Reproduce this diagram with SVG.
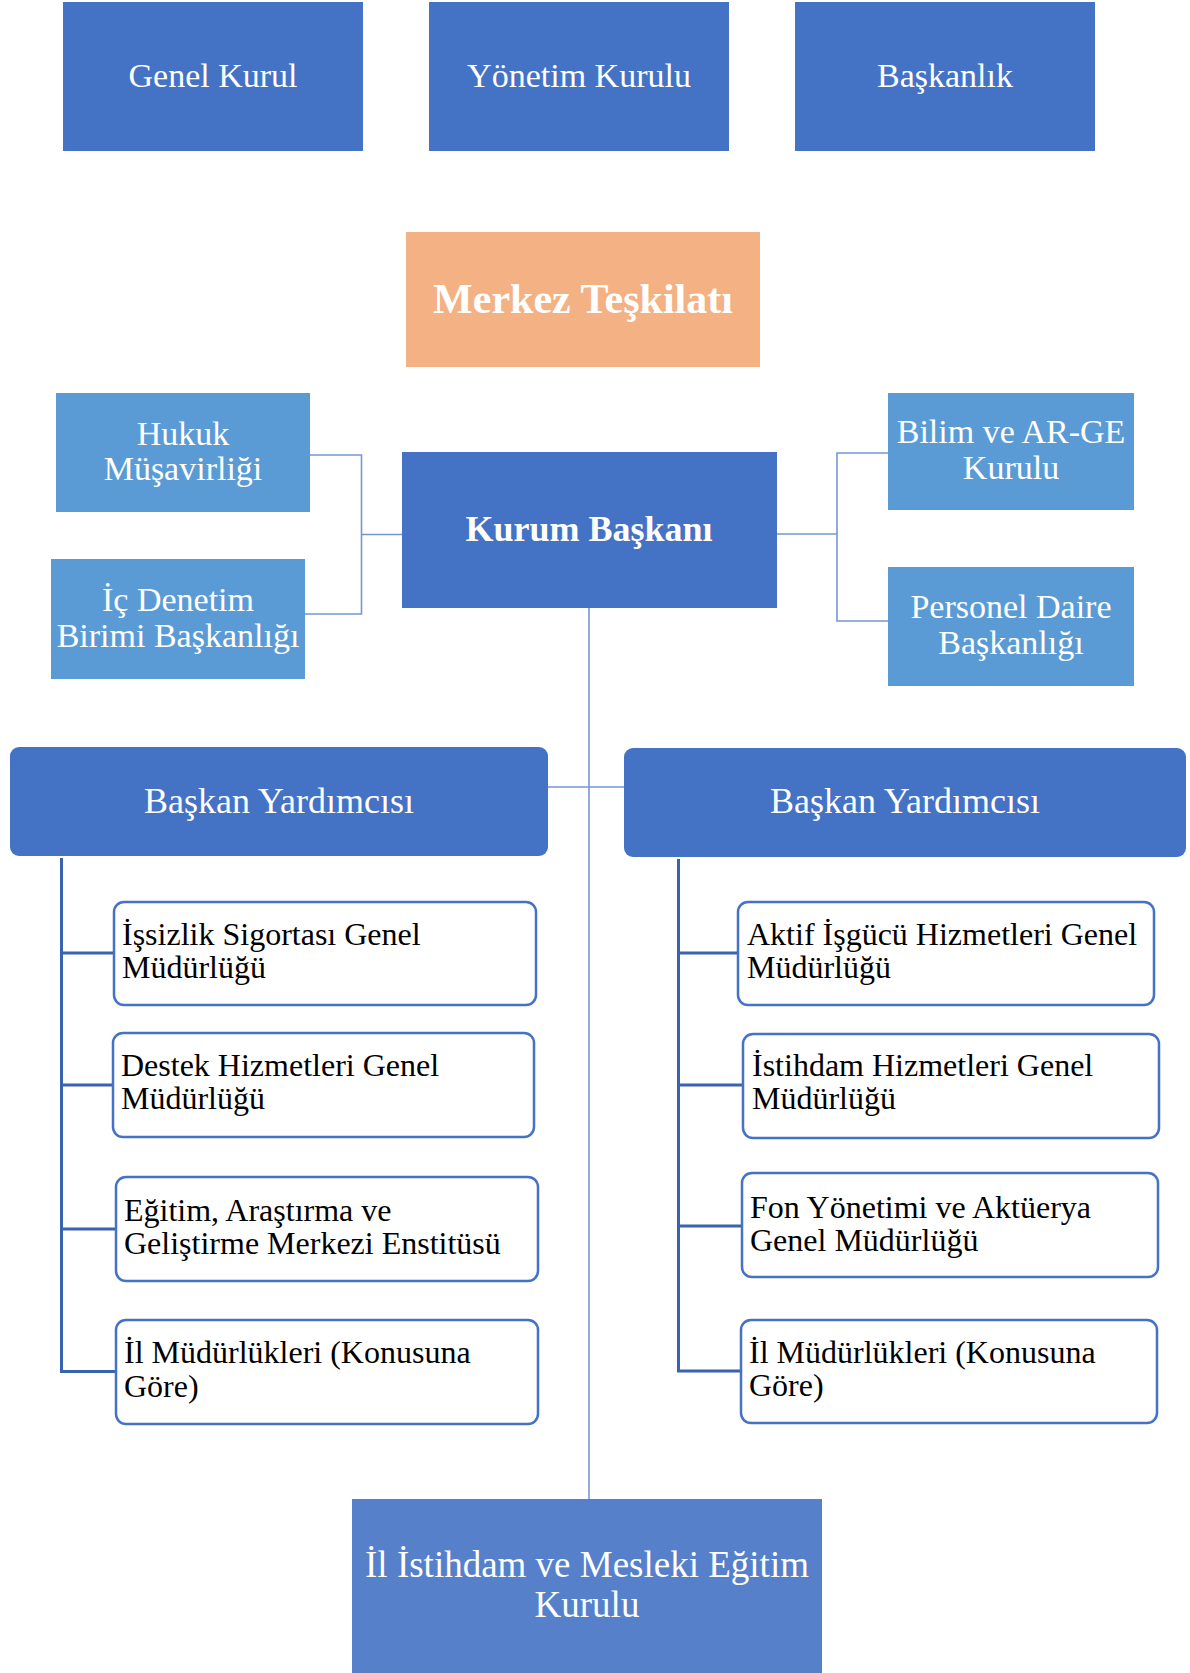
<svg xmlns="http://www.w3.org/2000/svg" width="1190" height="1673" viewBox="0 0 1190 1673">
  <style>
    text { font-family: "Liberation Serif", "Times New Roman", serif; }
    .dark { fill: #4472C4; }
    .light { fill: #5B9BD5; }
    .white-t { fill: #FFFFFF; text-anchor: middle; }
    .big { font-size: 34px; }
    .by { font-size: 36px; }
    .card { fill: #FFFFFF; stroke: #4472C4; stroke-width: 2.5; }
    .card-t { fill: #000000; font-size: 32px; }
    .thin { fill: none; stroke: #7596D4; stroke-width: 1.6; }
    .thick { fill: none; stroke: #3A63AF; stroke-width: 3; }
  </style>

  <rect x="0" y="0" width="1190" height="1673" fill="#FFFFFF"/>

  <!-- connectors -->
  <g id="connectors">
    <!-- left staff units to Kurum Başkanı -->
    <polyline class="thin" points="310,455 361.5,455 361.5,614 305,614"/>
    <line class="thin" x1="361.5" y1="534.5" x2="402" y2="534.5"/>
    <!-- right staff units to Kurum Başkanı -->
    <line class="thin" x1="777" y1="534" x2="837" y2="534"/>
    <polyline class="thin" points="888,453 837,453 837,621 888,621"/>
    <!-- central spine -->
    <line class="thin" x1="589" y1="608" x2="589" y2="1499"/>
    <line class="thin" x1="548" y1="787" x2="624" y2="787"/>
    <!-- left deputy branch -->
    <polyline class="thick" points="61.5,858 61.5,1371.5 116,1371.5"/>
    <line class="thick" x1="61.5" y1="953" x2="114" y2="953"/>
    <line class="thick" x1="61.5" y1="1085" x2="113" y2="1085"/>
    <line class="thick" x1="61.5" y1="1229" x2="116" y2="1229"/>
    <!-- right deputy branch -->
    <polyline class="thick" points="678.5,859 678.5,1371 741,1371"/>
    <line class="thick" x1="678.5" y1="953" x2="738" y2="953"/>
    <line class="thick" x1="678.5" y1="1085" x2="743" y2="1085"/>
    <line class="thick" x1="678.5" y1="1226" x2="742" y2="1226"/>
  </g>

  <!-- top row -->
  <g id="genel-kurul">
    <rect class="dark" x="63" y="2" width="300" height="149"/>
    <text class="white-t big" x="213" y="87">Genel Kurul</text>
  </g>
  <g id="yonetim-kurulu">
    <rect class="dark" x="429" y="2" width="300" height="149"/>
    <text class="white-t big" x="579" y="87">Yönetim Kurulu</text>
  </g>
  <g id="baskanlik">
    <rect class="dark" x="795" y="2" width="300" height="149"/>
    <text class="white-t big" x="945" y="87">Başkanlık</text>
  </g>

  <g id="merkez-teskilati">
    <rect x="406" y="232" width="354" height="135" fill="#F4B183"/>
    <text class="white-t" x="583" y="313" font-size="42" font-weight="bold">Merkez Teşkilatı</text>
  </g>

  <!-- staff units -->
  <g id="hukuk-musavirligi">
    <rect class="light" x="56" y="393" width="254" height="119"/>
    <text class="white-t big" x="183" y="445">Hukuk</text>
    <text class="white-t big" x="183" y="480">Müşavirliği</text>
  </g>
  <g id="ic-denetim">
    <rect class="light" x="51" y="559" width="254" height="120"/>
    <text class="white-t big" x="178" y="611">İç Denetim</text>
    <text class="white-t big" x="178" y="647">Birimi Başkanlığı</text>
  </g>
  <g id="kurum-baskani">
    <rect class="dark" x="402" y="452" width="375" height="156"/>
    <text class="white-t" x="589" y="541" font-size="36" font-weight="bold">Kurum Başkanı</text>
  </g>
  <g id="bilim-arge">
    <rect class="light" x="888" y="393" width="246" height="117"/>
    <text class="white-t big" x="1011" y="443">Bilim ve AR-GE</text>
    <text class="white-t big" x="1011" y="479">Kurulu</text>
  </g>
  <g id="personel-daire">
    <rect class="light" x="888" y="567" width="246" height="119"/>
    <text class="white-t big" x="1011" y="618">Personel Daire</text>
    <text class="white-t big" x="1011" y="654">Başkanlığı</text>
  </g>

  <!-- deputies -->
  <g id="baskan-yardimcisi-1">
    <rect class="dark" x="10" y="747" width="538" height="109" rx="9"/>
    <text class="white-t by" x="279" y="813">Başkan Yardımcısı</text>
  </g>
  <g id="baskan-yardimcisi-2">
    <rect class="dark" x="624" y="748" width="562" height="109" rx="9"/>
    <text class="white-t by" x="905" y="813">Başkan Yardımcısı</text>
  </g>

  <!-- left directorates -->
  <g id="issizlik-sigortasi">
    <rect class="card" x="114" y="902" width="422" height="103" rx="10"/>
    <text class="card-t" x="122" y="945">İşsizlik Sigortası Genel</text>
    <text class="card-t" x="122" y="978">Müdürlüğü</text>
  </g>
  <g id="destek-hizmetleri">
    <rect class="card" x="113" y="1033" width="421" height="104" rx="10"/>
    <text class="card-t" x="121" y="1076">Destek Hizmetleri Genel</text>
    <text class="card-t" x="121" y="1109">Müdürlüğü</text>
  </g>
  <g id="egitim-arastirma">
    <rect class="card" x="116" y="1177" width="422" height="104" rx="10"/>
    <text class="card-t" x="124" y="1221">Eğitim, Araştırma ve</text>
    <text class="card-t" x="124" y="1254">Geliştirme Merkezi Enstitüsü</text>
  </g>
  <g id="il-mudurlukleri-1">
    <rect class="card" x="116" y="1320" width="422" height="104" rx="10"/>
    <text class="card-t" x="124" y="1363">İl Müdürlükleri (Konusuna</text>
    <text class="card-t" x="124" y="1397">Göre)</text>
  </g>

  <!-- right directorates -->
  <g id="aktif-isgucu">
    <rect class="card" x="738" y="902" width="416" height="103" rx="10"/>
    <text class="card-t" x="747" y="945">Aktif İşgücü Hizmetleri Genel</text>
    <text class="card-t" x="747" y="978">Müdürlüğü</text>
  </g>
  <g id="istihdam-hizmetleri">
    <rect class="card" x="743" y="1034" width="416" height="104" rx="10"/>
    <text class="card-t" x="752" y="1076">İstihdam Hizmetleri Genel</text>
    <text class="card-t" x="752" y="1109">Müdürlüğü</text>
  </g>
  <g id="fon-yonetimi">
    <rect class="card" x="742" y="1173" width="416" height="104" rx="10"/>
    <text class="card-t" x="750" y="1218">Fon Yönetimi ve Aktüerya</text>
    <text class="card-t" x="750" y="1251">Genel Müdürlüğü</text>
  </g>
  <g id="il-mudurlukleri-2">
    <rect class="card" x="741" y="1320" width="416" height="103" rx="10"/>
    <text class="card-t" x="749" y="1363">İl Müdürlükleri (Konusuna</text>
    <text class="card-t" x="749" y="1396">Göre)</text>
  </g>

  <!-- provincial board -->
  <g id="il-istihdam-kurulu">
    <rect x="352" y="1499" width="470" height="180" fill="#5681CA"/>
    <text class="white-t" x="587" y="1577" font-size="37">İl İstihdam ve Mesleki Eğitim</text>
    <text class="white-t" x="587" y="1617" font-size="37">Kurulu</text>
  </g>
</svg>
